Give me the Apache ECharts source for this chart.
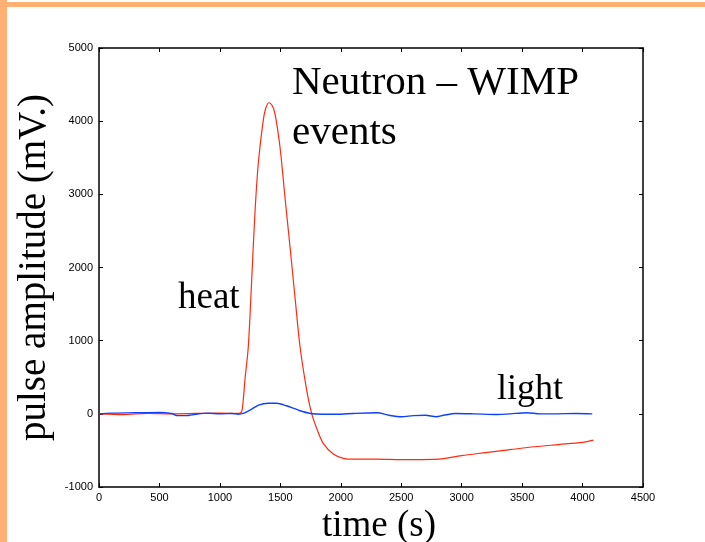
<!DOCTYPE html>
<html>
<head>
<meta charset="utf-8">
<script src="https://cdn.jsdelivr.net/npm/echarts@6/dist/echarts.min.js"></script>
<style>html,body{margin:0;padding:0;background:#fff}#c{width:705px;height:542px}</style>
</head>
<body>
<div id="c"></div>
<script>
// Heat (red) pulse: time (s) and amplitude (mV)
var heatTime = [0,200,400,600,800,1000,1150,1180,1195,1207,1235,1263,1290,1318,1359,1380,1406,1430,1455,1497,1538,1580,1621,1663,1718,1759,1806,1855,1938,2021,2100,2297,2500,2779,3000,3200,3400,3600,3800,4000,4090];
var heatAmp  = [0,-10,5,0,5,10,5,30,220,462,917,1829,2744,3424,4015,4180,4252,4220,4107,3650,2967,2284,1600,917,325,7,-221,-403,-549,-608,-620,-618,-625,-622,-570,-530,-490,-450,-420,-390,-360];
// Light (blue) pulse
var lightTime = [0,100,300,500,600,650,720,800,900,1000,1100,1150,1200,1260,1320,1400,1470,1550,1650,1750,1850,2000,2100,2300,2400,2500,2600,2700,2790,2850,2950,3100,3300,3400,3540,3650,3750,3950,4080];
var lightAmp  = [0,10,15,20,5,-25,-25,-5,10,0,5,-5,10,60,120,145,145,110,50,5,-5,-5,5,15,-20,-40,-25,-20,-40,-20,5,0,-10,0,15,0,0,5,0];
// Axis ticks
var xTicks = [0,500,1000,1500,2000,2500,3000,3500,4000,4500];
var yTicks = [-1000,0,1000,2000,3000,4000,5000];

function pairs(xs, ys){ return xs.map(function(x,i){ return [x, ys[i]]; }); }
function plain(v){ return String(v); }

var serif = '"Liberation Serif","Times New Roman",serif';
var sans = '"Liberation Sans",Helvetica,Arial,sans-serif';
var chart = echarts.init(document.getElementById('c'), null, {renderer:'canvas'});
var axisLine = {onZero:false, lineStyle:{color:'#000', width:1.5}};
var tick = {show:true, inside:true, length:4, lineStyle:{color:'#000'}};
chart.setOption({
  animation:false,
  backgroundColor:'#fff',
  grid:{left:99, top:48, right:62, bottom:55, containLabel:false, outerBoundsMode:'none'},
  xAxis:[{
    type:'value', min:xTicks[0], max:xTicks[xTicks.length-1], interval:500,
    axisLine:axisLine, axisTick:tick,
    axisLabel:{color:'#000', fontSize:11, fontFamily:sans, margin:5, formatter:plain},
    splitLine:{show:false},
    name:'time (s)', nameLocation:'middle', nameGap:20,
    nameTextStyle:{fontFamily:serif, fontSize:37, color:'#000', padding:[0,0,0,16]}
  },{
    type:'value', position:'top', min:xTicks[0], max:xTicks[xTicks.length-1], interval:500,
    axisLine:axisLine, axisTick:tick,
    axisLabel:{show:false}, splitLine:{show:false}
  }],
  yAxis:[{
    type:'value', min:yTicks[0], max:yTicks[yTicks.length-1], interval:1000,
    axisLine:axisLine, axisTick:tick,
    axisLabel:{color:'#000', fontSize:11, fontFamily:sans, margin:6, formatter:plain},
    splitLine:{show:false},
    name:'pulse amplitude (mV.)', nameLocation:'middle', nameGap:42,
    nameTextStyle:{fontFamily:serif, fontSize:39, color:'#000'}
  },{
    type:'value', position:'right', min:yTicks[0], max:yTicks[yTicks.length-1], interval:1000,
    axisLine:axisLine, axisTick:tick,
    axisLabel:{show:false}, splitLine:{show:false}
  }],
  series:[{
    name:'heat', type:'line', data:pairs(heatTime, heatAmp), showSymbol:false, smooth:0.3,
    lineStyle:{color:'#ff2a10', width:1.2}, z:3
  },{
    name:'light', type:'line', data:pairs(lightTime, lightAmp), showSymbol:false, smooth:0.3,
    lineStyle:{color:'#1040ff', width:1.4}, z:4
  }],
  graphic:[
    {type:'rect', shape:{x:0,y:0,width:7,height:542}, style:{fill:'#ffb072'}, silent:true},
    {type:'rect', shape:{x:7,y:2,width:698,height:5}, style:{fill:'#ffb072'}, silent:true},
    {type:'text', left:292, top:58, style:{text:'Neutron \u2013 WIMP\nevents', font:'41px '+serif, fill:'#000', lineHeight:50}},
    {type:'text', left:178, top:280, style:{text:'heat', font:'37px '+serif, fill:'#000'}},
    {type:'text', left:497, top:372, style:{text:'light', font:'36px '+serif, fill:'#000'}}
  ]
});
</script>
</body>
</html>
